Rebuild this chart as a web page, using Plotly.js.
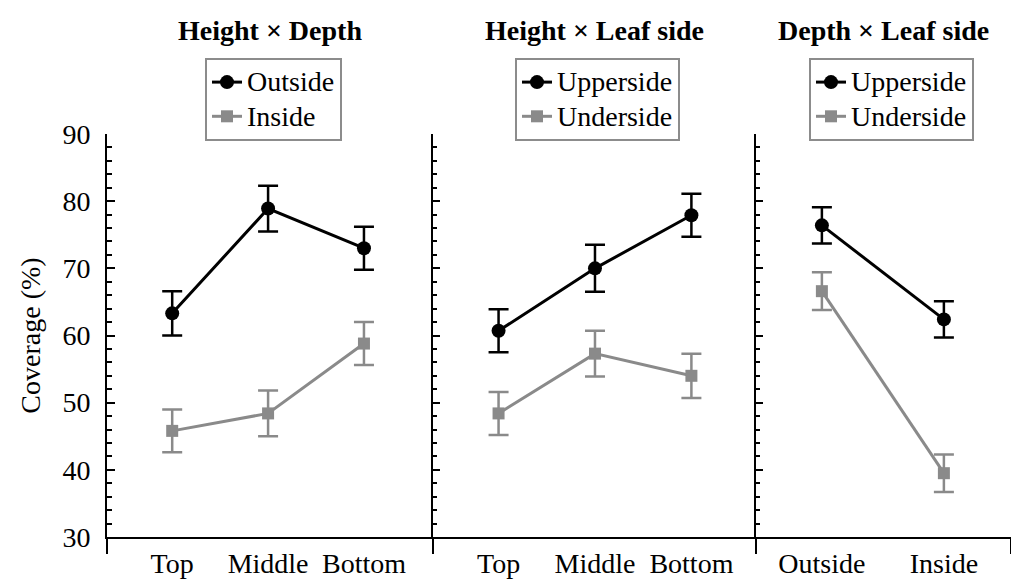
<!DOCTYPE html>
<html>
<head>
<meta charset="utf-8">
<script src="https://cdn.plot.ly/plotly-3.0.1.min.js"></script>
<style>html,body{margin:0;padding:0;background:#fff}#chart{width:1011px;height:583px}</style>
</head>
<body>
<div id="chart"></div>
<script>
// ---- data ----
const heightCats = ["Top", "Middle", "Bottom"];
const depthCats = ["Outside", "Inside"];
const panelTitles = ["Height × Depth", "Height × Leaf side", "Depth × Leaf side"];

// Panel 1: Height × Depth
const p1Outside = [63.3, 78.9, 73.0];
const p1OutsideErr = [3.3, 3.4, 3.2];
const p1Inside = [45.8, 48.4, 58.8];
const p1InsideErr = [3.2, 3.4, 3.2];

// Panel 2: Height × Leaf side
const p2Upper = [60.7, 70.0, 77.9];
const p2UpperErr = [3.2, 3.5, 3.2];
const p2Under = [48.4, 57.3, 54.0];
const p2UnderErr = [3.2, 3.4, 3.3];

// Panel 3: Depth × Leaf side
const p3Upper = [76.4, 62.4];
const p3UpperErr = [2.7, 2.7];
const p3Under = [66.6, 39.5];
const p3UnderErr = [2.8, 2.8];

// ---- style ----
const FONT = "Liberation Serif, Times New Roman, serif";
const FS = 28;
const BLACK = "#000000";
const GRAY = "#8a8a8a";
const W = 1011, H = 583;

function idx(arr) { return arr.map((_, i) => i); }
function big(s) { return '<span style="font-size:' + FS + 'px">' + s + '</span>'; }

function series(name, xs, ys, errs, color, symbol, size, xa, ya, legend) {
  return {
    type: "scatter", mode: "lines+markers", name: big(name),
    x: xs, y: ys, xaxis: xa, yaxis: ya, legend: legend,
    line: {color: color, width: 3},
    marker: {color: color, symbol: symbol, size: size},
    error_y: {type: "data", array: errs, visible: true, color: color, thickness: 2.5, width: 10},
    hoverinfo: "skip"
  };
}

const traces = [
  series("Outside", idx(heightCats), p1Outside, p1OutsideErr, BLACK, "circle", 14, "x", "y", "legend"),
  series("Inside", idx(heightCats), p1Inside, p1InsideErr, GRAY, "square", 12, "x", "y", "legend"),
  series("Upperside", idx(heightCats), p2Upper, p2UpperErr, BLACK, "circle", 14, "x2", "y2", "legend2"),
  series("Underside", idx(heightCats), p2Under, p2UnderErr, GRAY, "square", 12, "x2", "y2", "legend2"),
  series("Upperside", idx(depthCats), p3Upper, p3UpperErr, BLACK, "circle", 14, "x3", "y3", "legend3"),
  series("Underside", idx(depthCats), p3Under, p3UnderErr, GRAY, "square", 12, "x3", "y3", "legend3")
];

const yDomain = [(H - 537) / H, (H - 134) / H];
const yRange = [30, 90];
const d1 = [107 / W, 433 / W], d2 = [433 / W, 756 / W], d3 = [756 / W, 1];
const r1 = [-0.68, 2.72], r2 = [-0.68, 2.67], r3 = [-0.54, 1.55];

function xAxis(domain, range, cats, anchor) {
  return {
    domain: domain, range: range, anchor: anchor,
    tickmode: "array", tickvals: idx(cats), ticktext: cats,
    ticks: "", showgrid: false, zeroline: false,
    showline: true, linecolor: BLACK, linewidth: 2,
    tickfont: {family: FONT, size: FS, color: BLACK},
    ticklabelstandoff: 0,
    minor: {tickmode: "array", tickvals: range, ticks: "outside", ticklen: 15, tickwidth: 2, tickcolor: BLACK, showgrid: false}
  };
}

function yAxis(anchor, opts) {
  return Object.assign({
    domain: yDomain, range: yRange, anchor: anchor,
    tickmode: "linear", tick0: 30, dtick: 10,
    showgrid: false, zeroline: false,
    showline: true, linecolor: BLACK, linewidth: 2,
    ticks: "inside", ticklen: 8, tickwidth: 2, tickcolor: BLACK,
    minor: {dtick: 2, ticks: "inside", ticklen: 5, tickwidth: 2, tickcolor: BLACK, showgrid: false},
    showticklabels: false
  }, opts || {});
}

function legendAt(left) {
  return {
    x: left / W, xanchor: "left", y: 1 - 58 / H, yanchor: "top",
    xref: "paper", yref: "paper",
    bordercolor: "#8c8c8c", borderwidth: 2, bgcolor: "#ffffff",
    font: {family: FONT, size: 24, color: BLACK},
    itemclick: false, itemdoubleclick: false
  };
}

const layout = {
  width: W, height: H,
  margin: {l: 0, r: 0, t: 0, b: 0},
  paper_bgcolor: "#ffffff", plot_bgcolor: "rgba(0,0,0,0)",
  font: {family: FONT, size: FS, color: BLACK},
  showlegend: true,
  xaxis: xAxis(d1, r1, heightCats, "y"),
  xaxis2: xAxis(d2, r2, heightCats, "y2"),
  xaxis3: xAxis(d3, r3, depthCats, "y3"),
  yaxis: yAxis("x", {
    showticklabels: true, ticklabelstandoff: 9,
    tickfont: {family: FONT, size: FS, color: BLACK},
    title: {text: "Coverage (%)", font: {family: FONT, size: FS, color: BLACK}, standoff: 14}
  }),
  yaxis2: yAxis("x2", {ticklen: 7, minor: {dtick: 2, ticks: "inside", ticklen: 4, tickwidth: 2, tickcolor: BLACK, showgrid: false}}),
  yaxis4: yAxis("x2", {overlaying: "y2", showline: false, ticks: "outside", ticklen: 7,
    minor: {dtick: 2, ticks: "outside", ticklen: 4, tickwidth: 2, tickcolor: BLACK, showgrid: false}}),
  yaxis3: yAxis("x3", {ticklen: 7, minor: {dtick: 2, ticks: "inside", ticklen: 4, tickwidth: 2, tickcolor: BLACK, showgrid: false}}),
  yaxis5: yAxis("x3", {overlaying: "y3", showline: false, ticks: "outside", ticklen: 7,
    minor: {dtick: 2, ticks: "outside", ticklen: 4, tickwidth: 2, tickcolor: BLACK, showgrid: false}}),
  yaxis6: yAxis("x3", {overlaying: "y3", side: "right", showline: false, ticks: "inside", ticklen: 4,
    minor: {ticks: ""}}),
  legend: legendAt(205),
  legend2: legendAt(515),
  legend3: legendAt(809),
  annotations: panelTitles.map((t, i) => ({
    text: "<b>" + t + "</b>", xref: (i === 0 ? "x" : "x" + (i + 1)) + " domain", yref: "paper",
    x: 0.5, y: 1 - 30 / H, showarrow: false, xanchor: "center", yanchor: "middle",
    font: {family: FONT, size: FS, color: BLACK}
  }))
};

Plotly.newPlot("chart", traces, layout, {staticPlot: true, displayModeBar: false});
</script>
</body>
</html>
